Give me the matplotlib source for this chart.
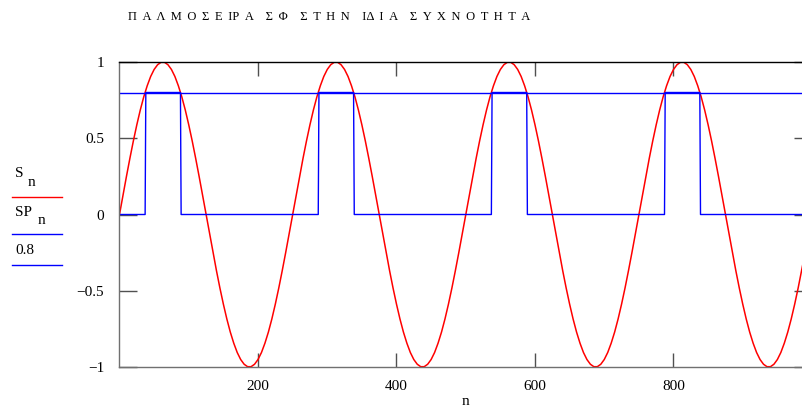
import matplotlib
matplotlib.use("Agg")
import matplotlib.pyplot as plt
from matplotlib.lines import Line2D

plt.rcParams['font.family'] = ['Liberation Serif', 'DejaVu Serif']

W, H = 803, 408

# sine S_n every 5 n; one cycle (250 n), the picture shows 4
n_s = list(range(0, 1001, 5))
cycle = [0.0, 0.125, 0.249, 0.368, 0.482, 0.588, 0.685, 0.771, 0.844, 0.905,
         0.951, 0.982, 0.998, 0.998, 0.982, 0.951, 0.905, 0.844, 0.771, 0.685,
         0.588, 0.482, 0.368, 0.249, 0.125,
         0.0, -0.125, -0.249, -0.368, -0.482, -0.588, -0.685, -0.771, -0.844, -0.905,
         -0.951, -0.982, -0.998, -0.998, -0.982, -0.951, -0.905, -0.844, -0.771, -0.685,
         -0.588, -0.482, -0.368, -0.249, -0.125]
s_vals = cycle * 4 + [0.0]

# pulse train SP_n (0 or 0.8)
sp_n = [0, 37, 38, 88, 89, 287, 288, 338, 339, 537, 538, 588, 589, 787, 788, 838, 839, 1000]
sp_vals = [0, 0, 0.8, 0.8, 0, 0, 0.8, 0.8, 0, 0, 0.8, 0.8, 0, 0, 0.8, 0.8, 0, 0]
level = 0.8

xticks = [200, 400, 600, 800]
yticks = [-1, -0.5, 0, 0.5, 1]
ylabels = ['\u22121', '\u22120.5', '0', '0.5', '1']

title_words = ['ΠΑΛΜΟΣΕΙΡΑ', 'ΣΦ', 'ΣΤΗΝ', 'ΙΔΙΑ', 'ΣΥΧΝΟΤΗΤΑ']

fig = plt.figure(figsize=(W / 100, H / 100), dpi=100)
ax = fig.add_axes([119.5 / W, (H - 367) / H, 692.5 / W, 305 / H])

ax.plot(n_s, s_vals, color='#ff0000', lw=1.1)
ax.plot(sp_n, sp_vals, color='#0000ff', lw=1.0)
ax.axhline(level, color='#0000ff', lw=1.0)

ax.set_xlim(0, 1000)
ax.set_ylim(-1, 1)
ax.set_xticks(xticks)
ax.set_xticklabels([str(t) for t in xticks])
ax.set_yticks(yticks)
ax.set_yticklabels(ylabels)
ax.tick_params(axis='x', direction='in', length=10, width=1, color='#505050',
               top=True, labelsize=11, pad=9)
ax.tick_params(axis='y', direction='in', length=13, width=1, color='#505050',
               right=True, labelsize=11, pad=11)
for side in ['left', 'bottom']:
    ax.spines[side].set_color('#707070')
ax.spines['top'].set_color('black')
for sp in ax.spines.values():
    sp.set_linewidth(1.0)

ax.set_xlabel('n', fontsize=11, labelpad=2)


def fx(x):
    return x / W


def fy(y):
    return 1 - y / H


# letter-spaced title, as in the original (I and P / I and D sit tight)
gap = ' \u2009'
words = []
for w in title_words:
    s = gap.join(w)
    s = s.replace('Ι' + gap + 'Ρ', 'ΙΡ').replace('Ι' + gap + 'Δ', 'ΙΔ')
    words.append(s)
title = '    '.join(words)
fig.text(fx(128), fy(17), title, fontsize=9, va='center', ha='left')

# Mathcad-style trace labels on the left
fig.text(fx(15), fy(173), 'S', fontsize=11, va='center')
fig.text(fx(28), fy(182), 'n', fontsize=11, va='center')
fig.add_artist(Line2D([fx(12), fx(62)], [fy(196.5), fy(196.5)], color='#ff0000', lw=1.0))
fig.text(fx(15), fy(212), 'SP', fontsize=11, va='center')
fig.text(fx(38), fy(221), 'n', fontsize=11, va='center')
fig.add_artist(Line2D([fx(12), fx(62)], [fy(234.5), fy(234.5)], color='#0000ff', lw=1.0))
fig.text(fx(15), fy(251), '0.8', fontsize=11, va='center')
fig.add_artist(Line2D([fx(12), fx(62)], [fy(265), fy(265)], color='#0000ff', lw=1.0))

fig.savefig('out.png', dpi=100)
